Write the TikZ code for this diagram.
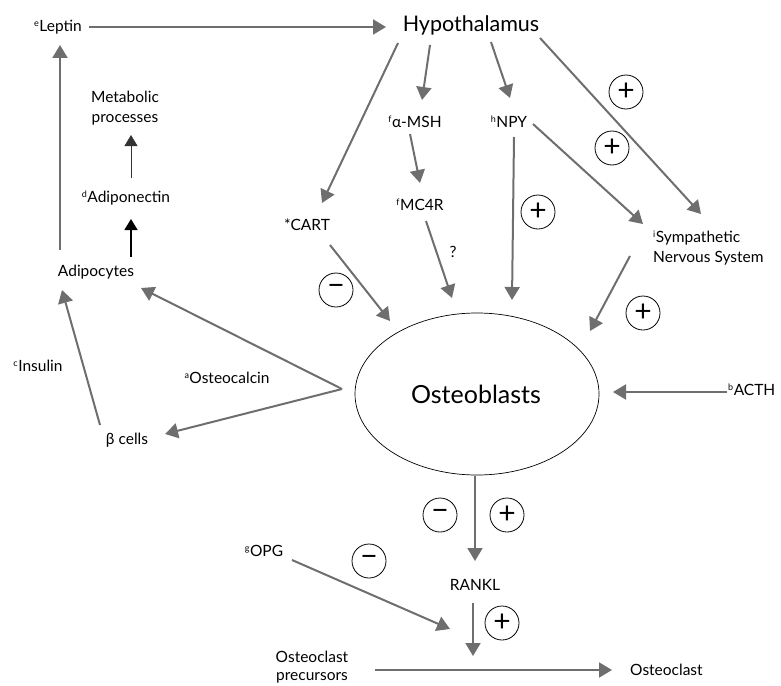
\documentclass[tikz,border=0pt]{standalone}
\usepackage{fontspec}
\setmainfont{Lato}
\usetikzlibrary{arrows.meta,shapes.geometric}
\definecolor{arr}{RGB}{110,110,110}
\tikzset{
  lbl/.style={font=\fontsize{15.5}{20}\selectfont, inner sep=1pt, align=center},
  garr/.style={draw=arr, line width=2pt, -{Triangle[length=13pt,width=15pt]}},
  sign/.style={circle, draw=black, line width=0.8pt, minimum size=34pt, inner sep=0pt, font=\fontsize{30}{30}\selectfont},
}
\newcommand{\sps}[1]{\textsuperscript{\fontsize{9}{9}\selectfont #1}}
\begin{document}
\begin{tikzpicture}[x=1pt,y=-1pt]
\useasboundingbox (0,0) rectangle (781,685);
% nodes
\node[lbl] (leptin) at (58,27) {\sps{e}Leptin};
\node[lbl, font=\fontsize{21.5}{24}\selectfont] (hyp) at (471,25) {Hypothalamus};
\node[lbl] (meta) at (125,108) {Metabolic\\processes};
\node[lbl] (adipon) at (126,198) {\sps{d}Adiponectin};
\node[lbl] (adipo) at (96,272) {Adipocytes};
\node[lbl] (cart) at (307,225) {*CART};
\node[lbl] (amsh) at (415,122) {\sps{f}α-MSH};
\node[lbl] (mc4r) at (420,205) {\sps{f}MC4R};
\node[lbl] (npy) at (509,122) {\sps{h}NPY};
\node[lbl, align=left, anchor=west] (sns) at (652,248) {\sps{i}Sympathetic\\Nervous System};
\node[lbl] (q) at (453,252) {?};
\node[draw=black, line width=0.7pt, ellipse, minimum width=244pt, minimum height=162pt, inner sep=0pt] (ost) at (477,394) {};
\node[lbl, font=\fontsize{25}{27}\selectfont] (osttext) at (476,394) {Osteoblasts};
\node[lbl, anchor=west] (acth) at (727,390) {\sps{b}ACTH};
\node[lbl] (ocalc) at (227,378) {\sps{a}Osteocalcin};
\node[lbl] (beta) at (127,440) {β cells};
\node[lbl] (ins) at (38,366) {\sps{c}Insulin};
\node[lbl] (opg) at (264,551) {\sps{g}OPG};
\node[lbl] (rankl) at (475,585) {RANKL};
\node[lbl, font=\fontsize{15.5}{18}\selectfont] (prec) at (312,667) {Osteoclast\\precursors};
\node[lbl, anchor=west] (oclast) at (629,670) {Osteoclast};
% signs
\node[sign] (s1) at (626,92) {+};
\node[sign] (s2) at (612,148) {+};
\node[sign] (s3) at (538,212) {+};
\node[sign] (s4) at (643,313) {+};
\node[sign] (s5) at (336,290) {−};
\node[sign] (s6) at (440,515) {−};
\node[sign] (s7) at (507,515) {+};
\node[sign] (s8) at (369,561) {−};
\node[sign] (s9) at (502,623) {+};
% coordinates for connector ends
\coordinate (lepS) at (89,27);  \coordinate (hypW) at (386,27);
\coordinate (hypA) at (398,43); \coordinate (cartN) at (322,203);
\coordinate (hypB) at (430,45); \coordinate (amshN) at (422,100);
\coordinate (amshS) at (410,134); \coordinate (mc4rN) at (420,183);
\coordinate (mc4rS) at (426,221); \coordinate (ostMC) at (452,298);
\coordinate (hypC) at (491,42); \coordinate (npyN) at (510,98);
\coordinate (npyS) at (514,137); \coordinate (ostN) at (512,300);
\coordinate (npyE) at (533,124); \coordinate (snsA) at (643,224);
\coordinate (hypD) at (540,38); \coordinate (snsB) at (701,214);
\coordinate (snsS) at (630,256); \coordinate (ostNE) at (590,331);
\coordinate (cartS) at (330,245); \coordinate (ostNW) at (390,321);
\coordinate (acthW) at (727,392); \coordinate (ostE) at (613,392);
\coordinate (ocB) at (342,389);
\coordinate (adipoE) at (141,288); \coordinate (betaE) at (165,434);
\coordinate (betaN) at (100,425); \coordinate (adipoS) at (62,290);
\coordinate (adipoN) at (60,250); \coordinate (lepN) at (60,45);
\coordinate (adipoN2) at (131,257); \coordinate (adiponS) at (131,219);
\coordinate (adiponN) at (131,178); \coordinate (metaS) at (131,135);
\coordinate (ostS) at (475,476); \coordinate (ranklN) at (475,561);
\coordinate (ranklS) at (473,603); \coordinate (jn) at (473,656);
\coordinate (opgE) at (292,560); \coordinate (jnW) at (450,629);
\coordinate (precE) at (375,670); \coordinate (oclW) at (612,670);
% connectors
\draw[garr] (lepS) -- (hypW);
\draw[garr] (hypA) -- (cartN);
\draw[garr] (hypB) -- (amshN);
\draw[garr] (amshS) -- (mc4rN);
\draw[garr] (mc4rS) -- (ostMC);
\draw[garr] (hypC) -- (npyN);
\draw[garr] (npyS) -- (ostN);
\draw[garr] (npyE) -- (snsA);
\draw[garr] (hypD) -- (snsB);
\draw[garr] (snsS) -- (ostNE);
\draw[garr] (cartS) -- (ostNW);
\draw[garr] (acthW) -- (ostE);
\draw[garr] (ocB) -- (adipoE);
\draw[garr] (ocB) -- (betaE);
\draw[garr] (betaN) -- (adipoS);
\draw[garr] (adipoN) -- (lepN);
\draw[draw=black, line width=1.6pt, -{Triangle[length=11pt,width=13pt]}] (adipoN2) -- (adiponS);
\draw[draw=black!80, line width=0.8pt, -{Triangle[length=11pt,width=13pt]}] (adiponN) -- (metaS);
\draw[garr] (ostS) -- (ranklN);
\draw[garr] (ranklS) -- (jn);
\draw[garr] (opgE) -- (jnW);
\draw[garr] (precE) -- (oclW);
\end{tikzpicture}
\end{document}
